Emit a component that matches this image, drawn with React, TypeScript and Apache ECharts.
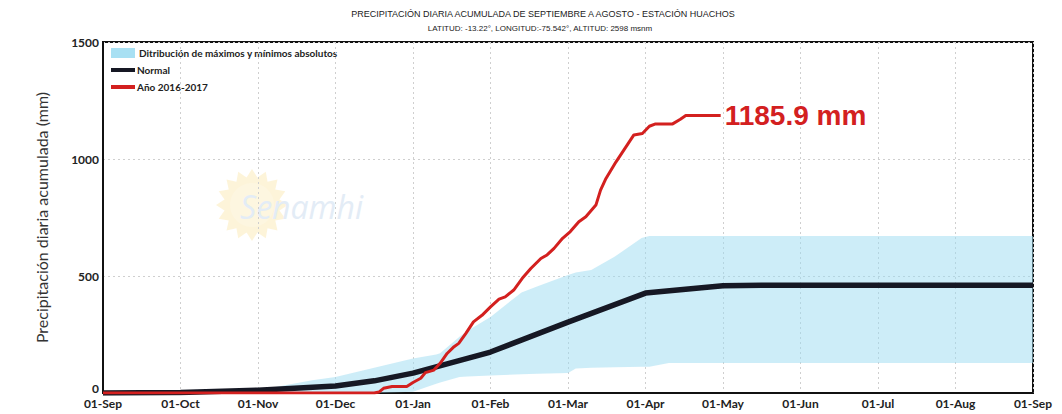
import React, { useEffect, useRef } from "react";
import * as echarts from "echarts";

const monthLabels = ["01-Sep", "01-Oct", "01-Nov", "01-Dec", "01-Jan", "01-Feb", "01-Mar", "01-Apr", "01-May", "01-Jun", "01-Jul", "01-Aug", "01-Sep"];

// x = months since 01-Sep, y = mm
const normalX = [0, 1, 2, 3, 3.5, 4, 5, 6, 7, 8, 8.5, 12];
const normalY = [0, 2, 12, 30, 52, 85, 175, 303, 427, 458, 460, 460];

const yearX = [0, 3.5, 3.56, 3.62, 3.73, 3.92, 4.0, 4.1, 4.16, 4.27, 4.35, 4.44, 4.53, 4.59, 4.68, 4.78, 4.89, 5.0, 5.11, 5.19, 5.3, 5.41, 5.52, 5.65, 5.73, 5.82, 5.93, 6.03, 6.14, 6.23, 6.36, 6.42, 6.49, 6.62, 6.72, 6.85, 6.96, 7.05, 7.13, 7.35, 7.45, 7.52, 7.97];
const yearY = [0, 0, 4, 20, 28, 28, 45, 63, 87, 98, 127, 169, 198, 212, 254, 304, 332, 368, 401, 411, 440, 490, 532, 575, 590, 618, 661, 690, 732, 753, 803, 867, 917, 988, 1038, 1103, 1109, 1140, 1150, 1150, 1170, 1185.9, 1185.9];

const bandX = [0, 1, 2, 2.7, 3, 3.5, 4, 4.3, 4.35, 4.6, 4.7, 5, 5.4, 5.6, 6, 6.1, 6.3, 6.6, 6.95, 7.05, 7.3, 12];
const bandLower = [0, 0, 0, 0, 0, 0, 5, 40, 45, 68, 70, 75, 80, 82, 85, 105, 108, 110, 112, 112, 128, 128];
const bandUpper = [0, 2, 12, 55, 68, 108, 147, 165, 170, 240, 265, 325, 430, 455, 504, 515, 526, 582, 662, 671, 671, 671];

const yearLabel = "1185.9 mm";
const titleLine1 = "PRECIPITACIÓN DIARIA ACUMULADA DE SEPTIEMBRE A AGOSTO - ESTACIÓN HUACHOS";
const titleLine2 = "LATITUD: -13.22°, LONGITUD:-75.542°, ALTITUD: 2598 msnm";
const legendNames = ["Ditribución de máximos y mínimos absolutos", "Normal", "Año 2016-2017"];

const RED = "#d3201f";
const BLACK = "#161824";

export default function App() {
  const ref = useRef<HTMLDivElement>(null);
  useEffect(() => {
    if (!ref.current) return;
    const chart = echarts.init(ref.current, null, { renderer: "svg" });

    const starPts: number[][] = [];
    const cx = 252, cy = 205;
    for (let i = 0; i < 32; i++) {
      const a = (i / 32) * Math.PI * 2;
      const r = i % 2 === 0 ? 36 : 28;
      starPts.push([cx + r * Math.cos(a), cy + r * Math.sin(a)]);
    }

    const bandData = bandX.map((x, i) => [x, bandLower[i], bandUpper[i]]);

    chart.setOption({
      animation: false,
      backgroundColor: "#ffffff",
      grid: { left: 103, right: 29, top: 42, bottom: 21, show: true, borderColor: "#111", borderWidth: 2, backgroundColor: "transparent" },
      xAxis: {
        type: "value", min: 0, max: 12, interval: 1,
        axisLine: { show: true, lineStyle: { color: "#111", width: 2 } },
        axisTick: { show: false },
        axisLabel: {
          formatter: (v: number) => monthLabels[Math.round(v)] ?? "",
          color: "#222", fontWeight: "bold", fontSize: 12, fontFamily: "Lato, sans-serif", margin: 4,
        },
        splitLine: { show: true, lineStyle: { color: "#cfcfcf", type: [2, 3], width: 1 } },
      },
      yAxis: {
        type: "value", min: 0, max: 1500, interval: 500,
        name: "Precipitación diaria acumulada (mm)",
        nameLocation: "middle", nameGap: 54, nameRotate: 90,
        nameTextStyle: { color: "#333", fontSize: 16, fontFamily: "Lato, sans-serif" },
        axisLine: { show: true, lineStyle: { color: "#111", width: 2 } },
        axisTick: { show: false },
        axisLabel: {
          formatter: (v: number) => (v === 0 ? "{z|0}" : String(v)),
          rich: { z: { padding: [0, 0, 10, 0], fontWeight: "bold", fontSize: 12, fontFamily: "Lato, sans-serif", color: "#222" } },
          color: "#222", fontWeight: "bold", fontSize: 12, fontFamily: "Lato, sans-serif", margin: 4,
        },
        splitLine: { show: true, lineStyle: { color: "#cfcfcf", type: [2, 3], width: 1 } },
      },
      series: [
        {
          type: "custom", name: legendNames[0], silent: true,
          data: bandData,
          encode: { x: 0, y: [1, 2] },
          renderItem: (params: any, api: any) => {
            if (params.dataIndex !== 0) return null;
            const top = bandData.map((d) => api.coord([d[0], d[2]]));
            const bottom = bandData.map((d) => api.coord([d[0], d[1]])).reverse();
            return {
              type: "polygon",
              shape: { points: top.concat(bottom) },
              style: { fill: "#9cdcf1", opacity: 0.5 },
            };
          },
          z: 1,
        },
        {
          type: "line", name: legendNames[1], symbol: "none",
          data: normalX.map((x, i) => [x, normalY[i]]),
          lineStyle: { color: BLACK, width: 5.5 },
          z: 3,
        },
        {
          type: "line", name: legendNames[2], symbol: "none",
          data: yearX.map((x, i) => [x, yearY[i]]),
          lineStyle: { color: RED, width: 3 },
          z: 4,
          endLabel: {
            show: true, formatter: yearLabel, color: RED, fontSize: 28, fontWeight: "bold",
            fontFamily: "Liberation Sans, Arial, sans-serif", distance: 4,
          },
        },
      ],
      graphic: [
        { type: "polygon", shape: { points: starPts }, style: { fill: "#fdf1cf", opacity: 0.8 }, z: -1, silent: true },
        { type: "circle", shape: { cx, cy, r: 22 }, style: { fill: "#fdf6e0" }, z: -1, silent: true },
        { type: "text", x: 240, y: 190, style: { text: "Senamhi", fontSize: 32, fontStyle: "italic", fontFamily: "Open Sans, sans-serif", fill: "#e3ecf6" }, z: -1, silent: true },
        { type: "text", x: 543, y: 14, style: { text: titleLine1, fontSize: 9, fontFamily: "Liberation Sans Narrow, Arial Narrow, sans-serif", fill: "#222", align: "center", verticalAlign: "middle" } },
        { type: "text", x: 540, y: 28, style: { text: titleLine2, fontSize: 8, fontFamily: "Liberation Sans Narrow, Arial Narrow, sans-serif", fill: "#222", align: "center", verticalAlign: "middle" } },
        { type: "rect", shape: { x: 111, y: 48, width: 24, height: 10 }, style: { fill: "#a8e0f3" } },
        { type: "text", x: 139, y: 53, style: { text: legendNames[0], fontSize: 10, fontWeight: "bold", fontFamily: "Lato, sans-serif", fill: "#222", verticalAlign: "middle" } },
        { type: "rect", shape: { x: 111, y: 68, width: 24, height: 4 }, style: { fill: BLACK } },
        { type: "text", x: 137, y: 70, style: { text: legendNames[1], fontSize: 10, fontWeight: "bold", fontFamily: "Lato, sans-serif", fill: "#222", verticalAlign: "middle" } },
        { type: "rect", shape: { x: 111, y: 85, width: 24, height: 4 }, style: { fill: RED } },
        { type: "text", x: 137, y: 87, style: { text: legendNames[2], fontSize: 10, fontWeight: "bold", fontFamily: "Lato, sans-serif", fill: "#222", verticalAlign: "middle" } },
      ],
    });
    return () => chart.dispose();
  }, []);
  return <div ref={ref} style={{ position: "fixed", left: 0, top: 0, width: 1062, height: 414 }} />;
}
